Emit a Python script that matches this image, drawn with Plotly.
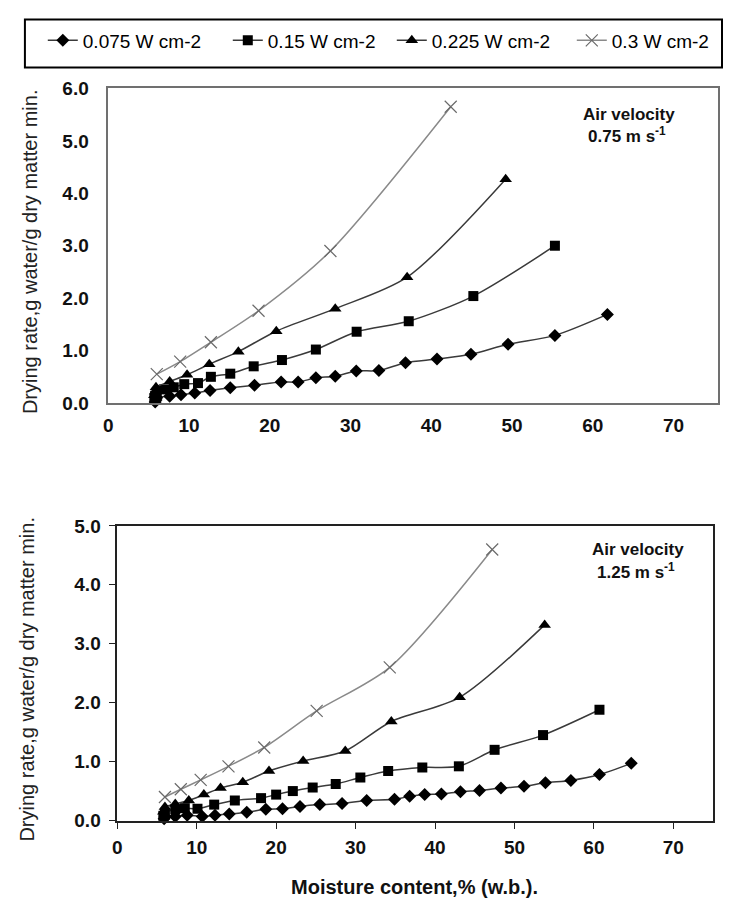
import plotly.graph_objects as go

# ---------------- data ----------------
series_names = ["0.075 W cm-2", "0.15 W cm-2", "0.225 W cm-2", "0.3 W cm-2"]
x_ticks = [0, 10, 20, 30, 40, 50, 60, 70]
y_ticks_top = [0, 1, 2, 3, 4, 5, 6]
y_ticks_bot = [0, 1, 2, 3, 4, 5]

# Air velocity 0.75 m/s (top chart)
top_075_x = [5.8, 5.9, 6.0, 7.6, 9.0, 10.7, 12.6, 15.1, 18.1, 21.4, 23.5, 25.7, 28.1, 30.7, 33.5, 36.8, 40.7, 44.9, 49.5, 55.3, 61.8]
top_075_y = [0.02, 0.06, 0.10, 0.13, 0.16, 0.19, 0.24, 0.29, 0.34, 0.40, 0.40, 0.48, 0.51, 0.61, 0.62, 0.77, 0.84, 0.93, 1.12, 1.29, 1.69]
top_015_x = [5.7, 5.8, 6.0, 6.9, 8.1, 9.4, 11.1, 12.7, 15.1, 18.0, 21.5, 25.7, 30.75, 37.2, 45.2, 55.3]
top_015_y = [0.08, 0.14, 0.20, 0.26, 0.30, 0.36, 0.38, 0.50, 0.56, 0.70, 0.82, 1.02, 1.36, 1.56, 2.04, 3.00]
top_0225_x = [5.7, 5.8, 5.9, 7.6, 9.75, 12.5, 16.1, 20.8, 28.1, 37.0, 49.2]
top_0225_y = [0.15, 0.22, 0.30, 0.41, 0.54, 0.74, 0.98, 1.37, 1.80, 2.40, 4.27]
top_03_x = [6.0, 8.9, 12.7, 18.6, 27.5, 42.4]
top_03_y = [0.55, 0.79, 1.16, 1.76, 2.90, 5.65]

# Air velocity 1.25 m/s (bottom chart)
bot_075_x = [5.9, 6.0, 7.3, 8.8, 10.7, 12.3, 14.1, 16.3, 18.7, 20.8, 23.0, 25.5, 28.3, 31.4, 34.9, 36.8, 38.7, 40.8, 43.2, 45.6, 48.3, 51.2, 53.9, 57.1, 60.7, 64.7]
bot_075_y = [0.03, 0.06, 0.07, 0.09, 0.07, 0.09, 0.11, 0.14, 0.19, 0.20, 0.24, 0.27, 0.29, 0.34, 0.36, 0.41, 0.44, 0.45, 0.49, 0.51, 0.55, 0.58, 0.64, 0.68, 0.78, 0.97]
bot_015_x = [5.8, 6.0, 7.3, 8.5, 10.1, 12.2, 14.8, 18.1, 20.0, 22.1, 24.6, 27.5, 30.6, 34.1, 38.4, 43.0, 47.5, 53.6, 60.7]
bot_015_y = [0.08, 0.13, 0.19, 0.21, 0.20, 0.27, 0.34, 0.38, 0.44, 0.50, 0.56, 0.62, 0.73, 0.84, 0.90, 0.92, 1.20, 1.45, 1.88]
bot_0225_x = [5.8, 6.0, 7.3, 9.0, 10.9, 13.0, 15.8, 19.1, 23.4, 28.7, 34.5, 43.1, 53.8]
bot_0225_y = [0.15, 0.23, 0.28, 0.34, 0.44, 0.55, 0.65, 0.84, 1.01, 1.18, 1.68, 2.09, 3.32]
bot_03_x = [6.0, 8.0, 10.5, 14.0, 18.5, 25.1, 34.3, 47.2]
bot_03_y = [0.40, 0.53, 0.69, 0.92, 1.24, 1.86, 2.60, 4.60]

# ---------------- layout helpers ----------------
W, H = 715, 906
OFFX = 8            # page body margin (horizontal)
OFFY, SY = 16.5, 0.978   # observed vertical placement of the figure in the photo

def px_x(p):
    return (p - OFFX) / W

def px_y(p):
    f = (p - OFFY) / SY
    return 1 - f / H

FONT = "Liberation Sans, Arial, sans-serif"
styles = [
    dict(symbol="diamond", size=10, mcolor="black", lcolor="#3a3a3a", lw=140),
    dict(symbol="square", size=10, mcolor="black", lcolor="#3a3a3a", lw=119),
    dict(symbol="triangle-up", size=11, mcolor="black", lcolor="#3a3a3a", lw=135),
    dict(symbol="x-thin-open", size=12, mcolor="#6a6a6a", lcolor="#8a8a8a", lw=96),
]

fig = go.Figure()

def add(xs, ys, i, xa, ya, show):
    s = styles[i]
    marker = dict(symbol=s["symbol"], size=s["size"], color=s["mcolor"])
    if s["symbol"].endswith("open"):
        marker["line"] = dict(color=s["mcolor"], width=1.2)
    fig.add_trace(go.Scatter(
        x=xs, y=ys, mode="lines+markers", name=series_names[i],
        line=dict(color=s["lcolor"], width=1.5, shape="spline", smoothing=0.8),
        marker=marker, xaxis=xa, yaxis=ya, showlegend=show, cliponaxis=False,
        legendwidth=s["lw"],
    ))

top_sets = [(top_075_x, top_075_y), (top_015_x, top_015_y), (top_0225_x, top_0225_y), (top_03_x, top_03_y)]
bot_sets = [(bot_075_x, bot_075_y), (bot_015_x, bot_015_y), (bot_0225_x, bot_0225_y), (bot_03_x, bot_03_y)]
for i, (xs, ys) in enumerate(top_sets):
    add(xs, ys, i, "x", "y", True)
for i, (xs, ys) in enumerate(bot_sets):
    add(xs, ys, i, "x2", "y2", False)

tickfont = dict(family=FONT, size=19, color="#111", weight="bold")

fig.update_layout(
    width=W, height=H,
    margin=dict(l=0, r=0, t=0, b=0),
    paper_bgcolor="white", plot_bgcolor="white",
    font=dict(family=FONT, color="black"),
    showlegend=True,
    legend=dict(
        orientation="h", x=px_x(38), xanchor="left", y=px_y(39), yanchor="middle",
        font=dict(family=FONT, size=19, color="black"),
        bgcolor="rgba(0,0,0,0)", borderwidth=0, itemwidth=30,
    ),
    xaxis=dict(
        domain=[px_x(104), px_x(718)], range=[0, 75.5], tickvals=x_ticks,
        showgrid=False, zeroline=False, showline=True, mirror=True,
        linecolor="#707070", linewidth=1.5, ticks="", tickfont=tickfont,
        ticklabelstandoff=4, anchor="y",
    ),
    yaxis=dict(
        domain=[px_y(402), px_y(87)], range=[0, 6], tickvals=y_ticks_top,
        tickformat=".1f", showgrid=False, zeroline=False, showline=True, mirror=True,
        linecolor="#707070", linewidth=1.5, ticks="", tickfont=tickfont,
        ticklabelstandoff=14, anchor="x",
    ),
    xaxis2=dict(
        domain=[px_x(113), px_x(713)], range=[0, 75], tickvals=x_ticks,
        showgrid=False, zeroline=False, showline=True, mirror=True,
        linecolor="#222", linewidth=1.5, ticks="outside", ticklen=7, tickcolor="#222",
        tickwidth=1.2, tickfont=tickfont, ticklabelstandoff=2, anchor="y2",
    ),
    yaxis2=dict(
        domain=[px_y(820), px_y(525)], range=[0, 5], tickvals=y_ticks_bot,
        tickformat=".1f", showgrid=False, zeroline=False, showline=True, mirror=True,
        linecolor="#222", linewidth=1.5, ticks="outside", ticklen=7, tickcolor="#222",
        tickwidth=1.2, tickfont=tickfont, ticklabelstandoff=4, anchor="x2",
    ),
)

# legend frame
fig.add_shape(type="rect", xref="paper", yref="paper",
              x0=px_x(20), x1=px_x(722), y0=px_y(66), y1=1 - 1.5 / H,
              line=dict(color="black", width=2), fillcolor="rgba(0,0,0,0)")

ann = []
ytitle = "Drying rate,g water/g dry matter min."
tf = dict(family=FONT, size=20, color="#222")
ann.append(dict(text=ytitle, x=px_x(25), y=px_y(250), xref="paper", yref="paper",
                showarrow=False, textangle=-90, font=tf, xanchor="center", yanchor="middle"))
ann.append(dict(text=ytitle, x=px_x(22), y=px_y(678), xref="paper", yref="paper",
                showarrow=False, textangle=-90, font=tf, xanchor="center", yanchor="middle"))
ann.append(dict(text="Moisture content,% (w.b.).", x=px_x(412), y=px_y(887), xref="paper", yref="paper",
                showarrow=False, font=dict(family=FONT, size=20, color="#111", weight="bold"),
                xanchor="center", yanchor="middle"))
bf = dict(family=FONT, size=17, color="#111", weight="bold")
ann.append(dict(text="Air velocity", x=px_x(628), y=px_y(113), xref="paper", yref="paper",
                showarrow=False, font=bf, xanchor="center", yanchor="middle"))
ann.append(dict(text="0.75 m s<sup>-1</sup>", x=px_x(626), y=px_y(134), xref="paper", yref="paper",
                showarrow=False, font=bf, xanchor="center", yanchor="middle"))
ann.append(dict(text="Air velocity", x=px_x(637), y=px_y(549), xref="paper", yref="paper",
                showarrow=False, font=bf, xanchor="center", yanchor="middle"))
ann.append(dict(text="1.25 m s<sup>-1</sup>", x=px_x(635), y=px_y(570), xref="paper", yref="paper",
                showarrow=False, font=bf, xanchor="center", yanchor="middle"))
fig.update_layout(annotations=ann)

fig.write_html("out.html")
